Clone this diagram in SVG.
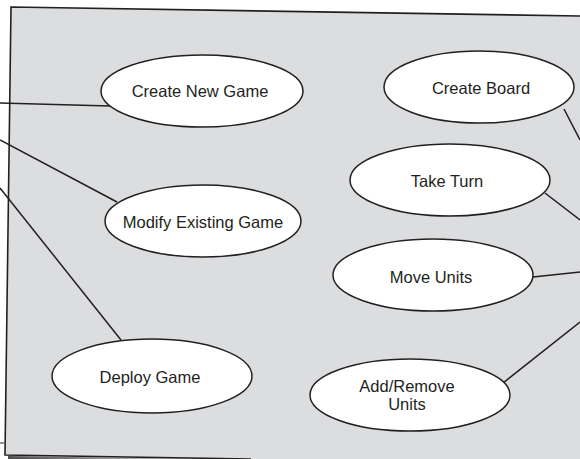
<svg xmlns="http://www.w3.org/2000/svg" width="580" height="459" viewBox="0 0 580 459">
<defs>
<linearGradient id="shadow" x1="0" y1="0" x2="1" y2="0">
<stop offset="0" stop-color="#231f20" stop-opacity="0.8"/>
<stop offset="1" stop-color="#231f20" stop-opacity="0"/>
</linearGradient>
<style>
.sys{fill:#dcdddf;stroke:none}
.edge{fill:none;stroke:#231f20;stroke-width:1.6}
.uc ellipse{fill:#ffffff;stroke:#231f20;stroke-width:1.5}
.uc text{font-family:"Liberation Sans",Arial,sans-serif;font-size:16.5px;fill:#231f20;text-anchor:middle}
.conn line{stroke:#231f20;stroke-width:1.5}
</style>
</defs>
<g id="system">
<polygon class="sys" points="11,7 580,16 580,464 5,455"/>
<polyline class="edge" points="580,16 11,7 5,455 251,459"/>
<polygon points="8,456 250,459.5 250,459 8,459" fill="url(#shadow)"/>
<line x1="0" y1="443" x2="5" y2="443" stroke="#6d6e71" stroke-width="1.5"/>
</g>
<g id="connectors" class="conn">
<line x1="0" y1="103" x2="110" y2="106"/>
<line x1="0" y1="140" x2="117" y2="202"/>
<line x1="0" y1="188" x2="121" y2="340"/>
<line x1="564" y1="109" x2="580" y2="140"/>
<line x1="545" y1="193" x2="580" y2="220"/>
<line x1="533" y1="277" x2="580" y2="272"/>
<line x1="503" y1="383" x2="580" y2="322"/>
</g>
<g id="create-new-game" class="uc">
<ellipse cx="202" cy="91" rx="101" ry="36"/>
<text x="200" y="97">Create New Game</text>
</g>
<g id="modify-existing-game" class="uc">
<ellipse cx="203" cy="221" rx="98" ry="36"/>
<text x="203" y="228">Modify Existing Game</text>
</g>
<g id="deploy-game" class="uc">
<ellipse cx="152" cy="376" rx="100" ry="37"/>
<text x="150" y="383">Deploy Game</text>
</g>
<g id="create-board" class="uc">
<ellipse cx="479" cy="87" rx="95" ry="36"/>
<text x="481" y="94">Create Board</text>
</g>
<g id="take-turn" class="uc">
<ellipse cx="450" cy="180" rx="100" ry="36"/>
<text x="447" y="187">Take Turn</text>
</g>
<g id="move-units" class="uc">
<ellipse cx="433" cy="275" rx="100" ry="36"/>
<text x="431" y="283">Move Units</text>
</g>
<g id="add-remove-units" class="uc">
<ellipse cx="410" cy="395" rx="100" ry="36"/>
<text x="407" y="392">Add/Remove</text>
<text x="407" y="410">Units</text>
</g>
</svg>
